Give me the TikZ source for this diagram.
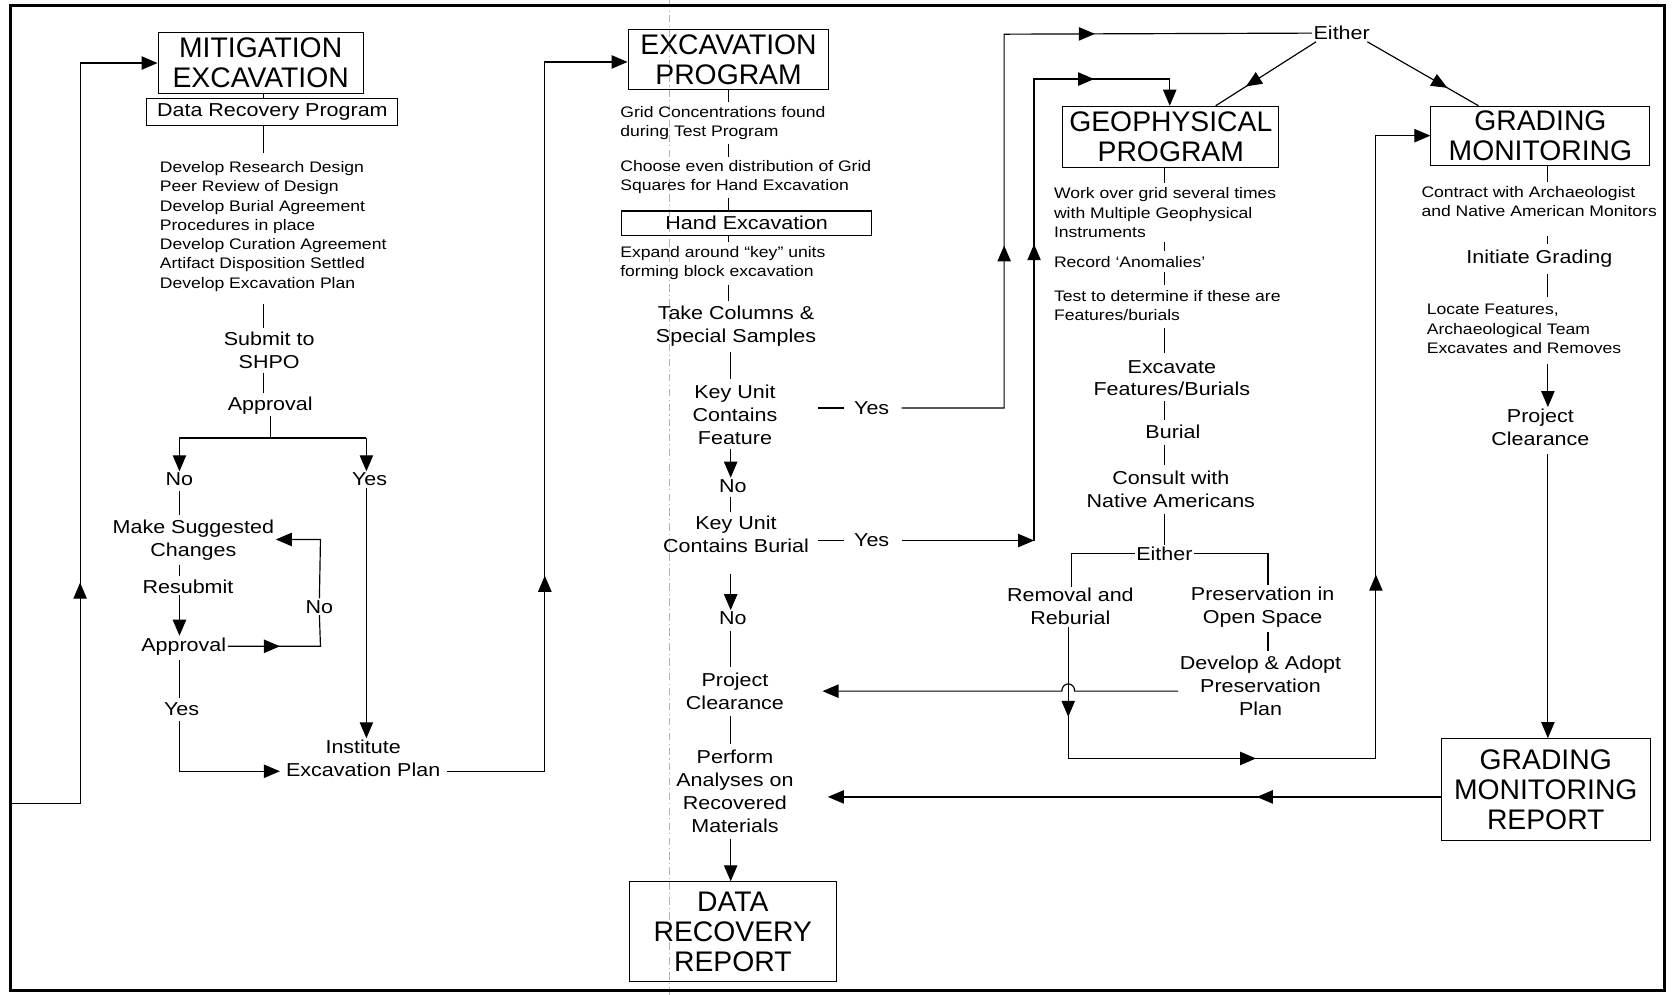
\documentclass[tikz,border=0pt]{standalone}
\usepackage{fontspec}
\setmainfont{Liberation Sans}
\newfontfamily\stretchfont{Liberation Sans}[FakeStretch=1.15]
\usetikzlibrary{arrows.meta,decorations.markings}
\newcommand{\fBig}{\fontsize{26.5}{28}\selectfont}
\newcommand{\fMed}{\stretchfont\fontsize{17.5}{21.5}\selectfont}
\newcommand{\fSml}{\stretchfont\fontsize{14.3}{18}\selectfont}
\tikzset{
  ftri/.tip={Triangle[length=15pt,width=12.5pt]},
  ttl/.style={draw, line width=1pt, font=\fBig, align=center, inner sep=0pt},
  sbox/.style={draw, line width=1pt, font=\fMed, inner sep=0pt},
  lbl/.style={font=\fMed, align=center, inner sep=1.5pt},
  sml/.style={font=\fSml, align=left, inner sep=1.5pt},
  ln/.style={line width=1.1pt},
  arr/.style={ln, -ftri},
  mA/.style={postaction={decorate, decoration={markings, mark=at position #1 with {\arrow{ftri}}}}},
  gap/.style={shorten <=#1, shorten >=#1},
}
\begin{document}
\begin{tikzpicture}[x=1pt, y=-1pt]
\useasboundingbox (0,0) rectangle (1568,931);
% frame and fold line
\coordinate (fTL) at (10,5);
\coordinate (fBR) at (1558,927);
\coordinate (foldT) at (627,0);
\coordinate (foldB) at (627,931);
\draw[gray!60, line width=0.6pt, dash pattern=on 7pt off 3pt on 1pt off 3pt] (foldT) -- (foldB);
\draw[line width=3pt] (fTL) rectangle (fBR);

% ---------------- left column ----------------
\node[ttl, minimum width=192, minimum height=57] (mitig) at (244,59) {MITIGATION\\EXCAVATION};
\node[sbox, minimum width=235, minimum height=25] (drp) at (255,105) {Data Recovery Program};
\node[sml, anchor=west] (dlist) at (148,212) {Develop Research Design\\Peer Review of Design\\Develop Burial Agreement\\Procedures in place\\Develop Curation Agreement\\Artifact Disposition Settled\\Develop Excavation Plan};
\node[lbl] (submit) at (252,328) {Submit to\\SHPO};
\node[lbl] (appr1) at (253,380) {Approval};
\node[lbl] (no1) at (168,449) {No};
\node[lbl] (yes1) at (346,449) {Yes};
\node[lbl] (make) at (181,506) {Make Suggested\\Changes};
\node[lbl] (resub) at (176,549) {Resubmit};
\node[lbl] (appr2) at (172,605) {Approval};
\node[lbl] (no2) at (299,568) {No};
\node[lbl] (yes2) at (170,664) {Yes};
\node[lbl] (inst) at (340,710) {Institute\\Excavation Plan};

\coordinate (axL) at (247,0);
\coordinate (axN) at (168,0);
\coordinate (br) at (253,410);
\coordinate (brL) at (168,410);
\coordinate (brR) at (343,410);
\coordinate (lpB) at (300,605);
\coordinate (lpT) at (300,505);
\coordinate (instL) at (262,722);
\coordinate (iR) at (418,722);
\coordinate (iR2) at (510,722);
\coordinate (iT) at (510,58);
\coordinate (lpA) at (10,752);
\coordinate (lpA2) at (75,752);
\coordinate (lpA3) at (75,59);

\draw[ln] (mitig.south -| axL) -- (drp.north -| axL);
\draw[ln, shorten >=6pt] (drp.south -| axL) -- (dlist.north -| axL);
\draw[ln, shorten <=10pt, shorten >=2pt] (dlist.south -| axL) -- (submit.north -| axL);
\draw[ln, gap=2pt] (submit.south -| axL) -- (appr1.north -| axL);
\draw[ln] (appr1.south) -- (br);
\draw[ln] (brL) -- (brR);
\draw[arr] (brL) -- (no1.north);
\draw[arr] (brR) -- (brR |- yes1.north);
\draw[ln, gap=3pt] (no1.south -| axN) -- (make.north -| axN);
\draw[ln, gap=2pt] (make.south -| axN) -- (resub.north -| axN);
\draw[arr] (resub.south -| axN) -- (appr2.north -| axN);
\draw[ln, mA=0.42] (appr2.east) -- (lpB) -- (no2.south);
\draw[arr] (no2.north) -- (lpT) -- (lpT -| make.east);
\draw[ln, gap=3pt] (appr2.south -| axN) -- (yes2.north -| axN);
\draw[arr, shorten <=3pt] (yes2.south -| axN) -- (axN |- instL) -- (instL);
\draw[arr] (yes1.south -| brR) -- (inst.north -| brR);
\draw[ln, mA=0.327, -ftri] (lpA) -- (lpA2) -- (lpA3) -- (mitig.west);

% ---------------- center column ----------------
\node[ttl, minimum width=188, minimum height=56] (excav) at (682,56) {EXCAVATION\\PROGRAM};
\node[sml, anchor=west] (grid1) at (579,115) {Grid Concentrations found\\during Test Program};
\node[sml, anchor=west] (grid2) at (579,166) {Choose even distribution of Grid\\Squares for Hand Excavation};
\node[sbox, minimum width=234, minimum height=23] (hand) at (699,209) {Hand Excavation};
\node[sml, anchor=west] (expand) at (579,246) {Expand around “key” units\\forming block excavation};
\node[lbl] (take) at (689,305) {Take Columns \&\\Special Samples};
\node[lbl] (kuf) at (688,388) {Key Unit\\Contains\\Feature};
\node[lbl] (yesA) at (816,382) {Yes};
\node[lbl] (noA) at (686,455) {No};
\node[lbl] (kub) at (689,500) {Key Unit\\Contains Burial};
\node[lbl] (yesB) at (816,506) {Yes};
\node[lbl] (noB) at (686,579) {No};
\node[lbl] (projC) at (688,647) {Project\\Clearance};
\node[lbl] (perf) at (688,741) {Perform\\Analyses on\\Recovered\\Materials};
\node[ttl, minimum width=194, minimum height=93] (drr) at (686,872) {DATA\\RECOVERY\\REPORT};

\draw[ln, mA=0.33, -ftri] (iR) -- (iR2) -- (iT) -- (iT -| excav.west);

\coordinate (axC) at (682,0);
\coordinate (axC2) at (684,0);
\draw[ln, shorten >=2pt] (excav.south -| axC) -- (grid1.north -| axC);
\draw[ln, gap=2pt] (grid1.south -| axC) -- (grid2.north -| axC);
\draw[ln, shorten <=2pt] (grid2.south -| axC) -- (hand.north -| axC);
\draw[ln, shorten >=2pt] (hand.south -| axC) -- (expand.north -| axC);
\draw[ln, gap=3pt] (expand.south -| axC) -- (take.north -| axC);
\draw[ln, gap=4pt] (take.south -| axC2) -- (kuf.north -| axC2);
\draw[arr, shorten <=3pt] (kuf.south -| axC2) -- (noA.north -| axC2);
\draw[ln, gap=2pt] (noA.south -| axC2) -- (kub.north -| axC2);
\draw[arr, shorten <=18pt] (kub.south -| axC2) -- (noB.north -| axC2);
\draw[ln, gap=4pt] (noB.south -| axC2) -- (projC.north -| axC2);
\draw[ln, gap=4pt] (projC.south -| axC2) -- (perf.north -| axC2);
\draw[arr, shorten <=4pt] (perf.south -| axC2) -- (drr.north -| axC2);

% Yes branches
\coordinate (yA1) at (940,382);
\coordinate (yA2) at (940,32);
\coordinate (yB1) at (968,506);
\coordinate (yB2) at (968,74);
\coordinate (yB3) at (1095,74);
\draw[ln] ([xshift=-32pt]yesA.west) -- ([xshift=-8pt]yesA.west);
\draw[ln] ([xshift=-32pt]yesB.west) -- ([xshift=-8pt]yesB.west);

% ---------------- geophysical column ----------------
\node[lbl] (eitherT) at (1256,31) {Either};
\node[ttl, minimum width=202, minimum height=57] (geo) at (1096,128) {GEOPHYSICAL\\PROGRAM};
\node[sml, anchor=west] (work) at (985,199) {Work over grid several times\\with Multiple Geophysical\\Instruments};
\node[sml, anchor=west] (record) at (985,245) {Record ‘Anomalies’};
\node[sml, anchor=west] (test) at (985,286) {Test to determine if these are\\Features/burials};
\node[lbl] (excF) at (1097,354) {Excavate\\Features/Burials};
\node[lbl] (burial) at (1098,404) {Burial};
\node[lbl] (consult) at (1096,458) {Consult with\\Native Americans};
\node[lbl] (eitherM) at (1090,518) {Either};
\node[lbl] (removal) at (1002,568) {Removal and\\Reburial};
\node[lbl] (pres) at (1182,568) {Preservation in\\Open Space};
\node[lbl] (devp) at (1180,642) {Develop \& Adopt\\Preservation\\Plan};

\draw[ln, shorten <=10pt, mA=0.347, mA=0.727] (yesA.east) -- (yA1) -- (yA2) -- (eitherT.west);
\draw[arr, shorten <=10pt] (yesB.east) -- (yB1);
\draw[ln, mA=0.475, mA=0.836, -ftri] (yB1) -- (yB2) -- (yB3) -- (geo.north -| yB3);
\draw[ln, mA=0.7] ([xshift=4pt]eitherT.south west) -- ([xshift=42pt]geo.north);

\coordinate (axG) at (1090,0);
\draw[ln, shorten >=3pt] (geo.south -| axG) -- (work.north -| axG);
\draw[ln, gap=3pt] (work.south -| axG) -- (record.north -| axG);
\draw[ln, gap=3pt] (record.south -| axG) -- (test.north -| axG);
\draw[ln, gap=5pt] (test.south -| axG) -- (excF.north -| axG);
\draw[ln, gap=3pt] (excF.south -| axG) -- (burial.north -| axG);
\draw[ln, gap=4pt] (burial.south -| axG) -- (consult.north -| axG);
\draw[ln, shorten <=4pt] (consult.south -| axG) -- (eitherM.north -| axG);

\coordinate (eL) at (1003,518);
\coordinate (eR) at (1187,518);
\draw[ln] (eitherM.west) -- (eL) -- (removal.north -| eL);
\draw[ln] (eitherM.east) -- (eR) -- (pres.north -| eR);
\draw[ln, gap=3pt] (pres.south -| eR) -- (devp.north -| eR);

\coordinate (rv) at (1000,0);
\coordinate (rB) at (1000,710);
\coordinate (rR) at (1288,710);
\coordinate (rT) at (1288,127);
\coordinate (hop) at (1000,647);
\coordinate (cPC) at (770,647);
\coordinate (cPA) at (775,746);

% ---------------- grading column ----------------
\node[ttl, minimum width=205, minimum height=55] (grad) at (1442,127) {GRADING\\MONITORING};
\node[sml, anchor=west] (contract) at (1329,189) {Contract with Archaeologist\\and Native American Monitors};
\node[lbl] (initg) at (1441,242) {Initiate Grading};
\node[sml, anchor=west] (locate) at (1334,308) {Locate Features,\\Archaeological Team\\Excavates and Removes};
\node[lbl] (projR) at (1442,400) {Project\\Clearance};
\node[ttl, minimum width=196, minimum height=95] (gmr) at (1447,739) {GRADING\\MONITORING\\REPORT};

\coordinate (axR) at (1449,0);
\draw[ln, mA=0.72] ([xshift=-4pt]eitherT.south east) -- ([xshift=-58pt]grad.north);
\draw[ln, shorten >=3pt] (grad.south -| axR) -- (contract.north -| axR);
\draw[ln, shorten <=16pt, shorten >=4pt] (contract.south -| axR) -- (initg.north -| axR);
\draw[ln, gap=5pt] (initg.south -| axR) -- (locate.north -| axR);
\draw[arr, shorten <=8pt] (locate.south -| axR) -- (projR.north -| axR);
\draw[arr, shorten <=6pt] (projR.south -| axR) -- (gmr.north -| axR);

% removal path to grading and hop line to project clearance
\draw[ln, mA=0.0805, mA=0.286, mA=0.558, -ftri] (removal.south -| rv) -- (rB) -- (rR) -- (rT) -- (grad.west |- rT);
\draw[ln, -ftri] (devp.west |- hop) -- ([xshift=6pt]hop) .. controls ([xshift=6pt,yshift=9pt]hop) and ([xshift=-6pt,yshift=9pt]hop) .. ([xshift=-6pt]hop) -- (cPC);
\draw[ln, mA=0.3, -ftri] (gmr.west |- cPA) -- (cPA);
\end{tikzpicture}
\end{document}
